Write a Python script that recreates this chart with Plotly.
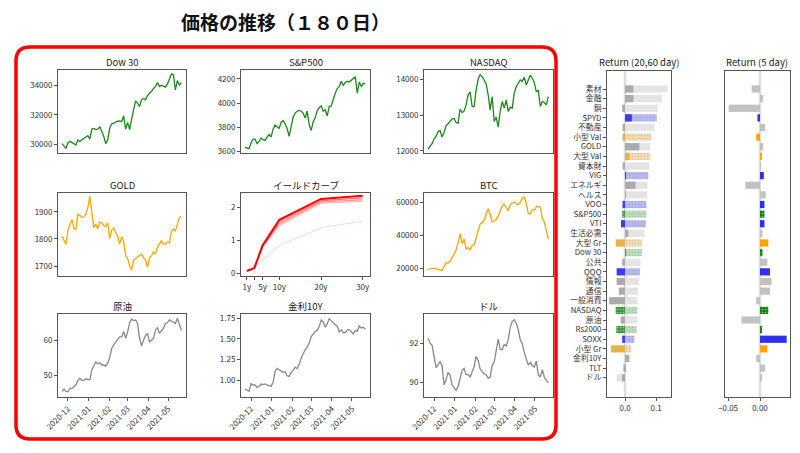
import plotly.graph_objects as go
import pandas as pd

# ---------------- data ----------------
dates = pd.date_range("2020-11-22", periods=61, freq="3D")

dow30 = [30050, 29860, 29730, 30090, 30200, 30130, 30045, 29950, 30310, 30180,
         30310, 30400, 30540, 30590, 30360, 31040, 31080, 31000, 31040, 31180,
         30880, 30540, 30050, 30310, 31110, 31400, 31450, 31540, 31580, 31600,
         31540, 31940, 31040, 31490, 31000, 31720, 32460, 32960, 32800, 32580,
         33030, 33120, 33030, 33320, 33480, 33590, 33800, 33930, 34200, 33930,
         34020, 33980, 33890, 34110, 34430, 34790, 34750, 33710, 34340, 34020, 34200]
sp500 = [3636, 3627, 3625, 3671, 3704, 3704, 3666, 3685, 3712, 3699,
         3693, 3720, 3742, 3720, 3786, 3819, 3803, 3792, 3841, 3857,
         3830, 3792, 3726, 3794, 3885, 3918, 3934, 3940, 3934, 3918,
         3877, 3934, 3822, 3775, 3847, 3879, 3940, 3962, 3978, 3934,
         3945, 3896, 3973, 3978, 4041, 4082, 4121, 4137, 4181, 4148,
         4170, 4181, 4175, 4192, 4205, 4219, 4082, 4175, 4137, 4164, 4159]
nasdaq = [12055, 12130, 12204, 12333, 12407, 12537, 12574, 12389, 12518, 12704,
          12778, 12824, 12889, 12907, 12796, 12778, 13167, 13074, 13111, 13287,
          13565, 13648, 13241, 13241, 13704, 14000, 14130, 14074, 13981, 13870,
          13565, 13148, 13518, 12824, 12944, 12667, 13102, 13380, 13194, 13426,
          13102, 13222, 13194, 13611, 13796, 13889, 13981, 13944, 14056, 13843,
          14000, 14111, 14037, 13907, 13657, 13685, 13241, 13380, 13352, 13287, 13518]
gold = [1810, 1798, 1781, 1833, 1851, 1872, 1839, 1835, 1891, 1887,
        1879, 1882, 1891, 1916, 1958, 1894, 1842, 1855, 1837, 1862,
        1860, 1850, 1845, 1860, 1802, 1833, 1840, 1823, 1810, 1781,
        1808, 1790, 1739, 1728, 1700, 1685, 1722, 1728, 1732, 1739,
        1744, 1730, 1722, 1695, 1730, 1737, 1753, 1744, 1769, 1781,
        1793, 1781, 1781, 1788, 1786, 1826, 1837, 1830, 1851, 1879, 1884]
btc = [19200, 19600, 19600, 20000, 19600, 19400, 19200, 18600, 20800, 23200,
       23200, 24200, 26400, 28400, 30900, 35300, 40900, 34900, 37700, 31700,
       32500, 31300, 33700, 34100, 38300, 43700, 46900, 47700, 49300, 53000,
       56200, 53000, 48300, 48900, 49700, 51800, 55400, 57800, 59000, 57000,
       55000, 58600, 59800, 60200, 59400, 58600, 60200, 62600, 63400, 59400,
       53400, 53000, 55800, 55400, 57400, 57800, 57000, 50400, 48300, 42500, 37700]
oil = [45.4, 46.0, 45.4, 45.3, 46.3, 46.2, 46.7, 47.2, 48.5, 49.1,
       48.5, 48.5, 48.9, 48.7, 48.7, 51.5, 52.8, 53.8, 53.2, 53.6,
       52.9, 52.9, 52.6, 53.4, 55.1, 57.6, 58.6, 59.5, 60.2, 60.9,
       60.9, 62.4, 60.5, 62.3, 64.9, 66.0, 65.5, 65.7, 64.7, 60.5,
       58.3, 60.0, 61.3, 61.9, 59.5, 60.0, 60.4, 62.8, 63.6, 61.9,
       62.5, 63.3, 64.7, 64.9, 65.7, 65.3, 65.1, 64.7, 66.2, 64.7, 62.8]
rate10y = [0.891, 0.875, 0.863, 0.956, 0.940, 0.940, 0.907, 0.923, 0.952, 0.944,
           0.952, 0.940, 0.927, 0.923, 0.972, 1.105, 1.141, 1.125, 1.101, 1.093,
           1.101, 1.052, 1.044, 1.093, 1.117, 1.157, 1.141, 1.190, 1.266, 1.319,
           1.367, 1.399, 1.448, 1.528, 1.560, 1.589, 1.601, 1.649, 1.730, 1.706,
           1.641, 1.681, 1.746, 1.722, 1.690, 1.669, 1.657, 1.585, 1.609, 1.577,
           1.577, 1.609, 1.609, 1.585, 1.560, 1.601, 1.593, 1.657, 1.633, 1.641, 1.617]
dollar = [92.25, 92.00, 91.90, 91.32, 90.75, 90.92, 91.05, 90.85, 89.88, 90.14,
          90.51, 90.37, 89.86, 89.73, 89.59, 89.80, 90.17, 90.61, 90.71, 90.39,
          90.39, 90.27, 90.54, 90.81, 91.32, 91.12, 90.68, 90.56, 90.44, 90.39,
          90.20, 90.27, 90.88, 91.02, 91.66, 92.20, 91.69, 91.66, 91.93, 91.86,
          92.17, 92.81, 93.10, 93.19, 93.02, 92.71, 92.17, 91.97, 91.53, 91.25,
          90.88, 91.02, 90.85, 90.78, 91.08, 90.39, 90.27, 90.64, 90.27, 90.10, 89.97]

# yield curve: tenor labels and their plot positions, curves oldest -> latest
yc_ticktext = ["1y", "", "5y", "10y", "20y", "30y"]
yc_x = [2.2, 4, 6, 10, 20, 30]
yc_curves = [
    [0.10, 0.15, 0.42, 0.85, 1.38, 1.58],
    [0.08, 0.16, 0.80, 1.45, 2.12, 2.18],
    [0.08, 0.16, 0.82, 1.50, 2.16, 2.22],
    [0.07, 0.16, 0.84, 1.56, 2.20, 2.28],
    [0.07, 0.16, 0.85, 1.62, 2.25, 2.35],
]

# returns
cats = ["素材", "金融", "銅", "SPYD", "不動産", "小型 Val", "GOLD", "大型 Val", "資本財", "VIG",
        "エネルギ", "ヘルス", "VOO", "S&P500", "VTI", "生活必需", "大型 Gr", "Dow 30", "公共", "QQQ",
        "情報", "通信", "一般消費", "NASDAQ", "原油", "Rs2000", "SOXX", "小型 Gr", "金利10Y", "TLT", "ドル"]
groups = ["o", "o", "o", "etf", "o", "style", "o", "style", "o", "etf",
          "o", "o", "etf", "idx", "etf", "o", "style", "idx", "o", "etf",
          "o", "o", "o", "idx", "o", "idx", "etf", "style", "o", "o", "o"]
ret60 = [0.137, 0.119, 0.105, 0.102, 0.094, 0.084, 0.081, 0.081, 0.078, 0.075,
         0.072, 0.072, 0.069, 0.069, 0.067, 0.063, 0.054, 0.054, 0.050, 0.048,
         0.045, 0.042, 0.040, 0.040, 0.040, 0.037, 0.030, 0.020, 0.010, -0.004, -0.027]
ret20 = [0.027, 0.027, -0.009, 0.022, -0.008, -0.008, 0.046, 0.014, -0.008, 0.003,
         0.034, 0.002, -0.008, -0.009, -0.013, 0.011, -0.030, 0.003, -0.009, -0.027,
         -0.027, -0.020, -0.051, -0.030, -0.014, -0.028, -0.009, -0.045, 0.014, -0.005, -0.010]
ret5 = [-0.013, 0.005, -0.049, -0.004, 0.008, -0.006, 0.005, 0.003, 0.001, 0.006,
        -0.023, 0.009, 0.007, 0.007, 0.007, 0.004, 0.013, 0.004, 0.0115, 0.0156,
        0.018, 0.0156, -0.006, 0.013, -0.0286, 0.003, 0.0417, 0.0115, -0.006, 0.008, 0.002]

# ---------------- styling ----------------
W, H = 800, 453
FONT = "Noto Sans CJK JP, Lato, sans-serif"
AX = "#555555"
TXT = "#333333"
TICKFONT = dict(size=8, color=TXT)

def xd(a, b):
    return [a / W, b / W]

def yd(top, bottom):
    return [1 - bottom / H, 1 - top / H]

cols = [(58, 186), (241, 370), (424, 553)]
rows = [(70, 153), (193, 276), (314, 397)]

light_col = {"o": "#e4e4e4", "etf": "#b9b9f2", "idx": "#bcdcbc", "style": "#f3dcb4"}
dark_col = {"o": "#ababab", "etf": "#3c3cf0", "idx": "#3a963a", "style": "#e8b04c"}
c5_col = {"o": "#c2c2c2", "etf": "#2f2ff0", "idx": "#108010", "style": "#ffa500"}

fig = go.Figure()
layout = dict(
    width=W, height=H, autosize=False,
    margin=dict(l=0, r=0, t=0, b=0, pad=0, autoexpand=False),
    paper_bgcolor="white", plot_bgcolor="white", showlegend=False,
    barmode="overlay", font=dict(family=FONT, size=8, color=TXT),
)

date_range = ["2020-11-16", "2021-05-28"]
panels = [
    ("Dow 30", dow30, "#1a8a1a", [29410, 35060], [30000, 32000, 34000], "d"),
    ("S&P500", sp500, "#1a8a1a", [3589, 4274], [3600, 3800, 4000, 4200], "d"),
    ("NASDAQ", nasdaq, "#1a8a1a", [11944, 14259], [12000, 13000, 14000], "d"),
    ("GOLD", gold, "#ffa500", [1663, 1970], [1700, 1800, 1900], "d"),
    ("イールドカーブ", None, None, [-0.08, 2.43], [0, 1, 2], "d"),
    ("BTC", btc, "#ffa500", [15180, 65830], [20000, 40000, 60000], "d"),
    ("原油", oil, "#888888", [43.8, 67.4], [50, 60], "d"),
    ("金利10Y", rate10y, "#888888", [0.794, 1.802], [1.0, 1.25, 1.5, 1.75], ".2f"),
    ("ドル", dollar, "#888888", [89.25, 93.49], [90, 92], "d"),
]

annotations = []
for i, (title, series, color, yr, yt, yfmt) in enumerate(panels):
    r, c = divmod(i, 3)
    n = i + 1
    xa = "xaxis" if n == 1 else f"xaxis{n}"
    ya = "yaxis" if n == 1 else f"yaxis{n}"
    xref = "x" if n == 1 else f"x{n}"
    yref = "y" if n == 1 else f"y{n}"
    x0, x1 = cols[c]
    t0, t1 = rows[r]
    common = dict(showline=True, mirror=True, linecolor=AX, linewidth=1,
                  showgrid=False, zeroline=False, ticklen=3, tickcolor=AX,
                  tickfont=TICKFONT)
    if series is None:
        for k, curve in enumerate(yc_curves):
            last = k == len(yc_curves) - 1
            op = [0.15, 0.3, 0.42, 0.55, 1.0][k]
            fig.add_trace(go.Scatter(x=yc_x, y=curve, mode="lines",
                                     line=dict(color=f"rgba(255,0,0,{op})", width=2 if last else 1.2),
                                     xaxis=xref, yaxis=yref, hoverinfo="skip"))
        layout[xa] = dict(domain=xd(x0, x1), anchor=yref, range=[0.8, 31.76],
                          tickvals=yc_x, ticktext=yc_ticktext, ticks="outside", **common)
    else:
        fig.add_trace(go.Scatter(x=dates, y=series, mode="lines",
                                 line=dict(color=color, width=1.3),
                                 xaxis=xref, yaxis=yref))
        xdict = dict(domain=xd(x0, x1), anchor=yref, type="date", range=date_range, **common)
        if r == 2:
            xdict.update(ticks="outside", tickformat="%Y-%m", dtick="M1",
                         tick0="2020-12-01", tickangle=-45, showticklabels=True)
        else:
            xdict.update(ticks="", showticklabels=False)
        layout[xa] = xdict
    layout[ya] = dict(domain=yd(t0, t1), anchor=xref, range=yr, tickvals=yt,
                      tickformat=yfmt, ticks="outside", **common)
    annotations.append(dict(text=title, x=(x0 + x1) / 2 / W, y=1 - (t0 - 8) / H,
                            xref="paper", yref="paper", showarrow=False,
                            xanchor="center", yanchor="middle",
                            font=dict(size=9.5, color="#222222", family=FONT)))

# ---------------- bar charts ----------------
idx = list(range(len(cats)))
bar_yrange = [32.0, -1.87]

fig.add_trace(go.Bar(
    x=ret60, y=idx, orientation="h", width=0.75,
    marker=dict(color=[light_col[g] for g in groups], line=dict(width=0),
                pattern=dict(shape=["" if g == "o" else "." for g in groups],
                             fgcolor=[dark_col[g] for g in groups], fgopacity=0.2,
                             size=3, solidity=0.2)),
    xaxis="x10", yaxis="y10"))
fig.add_trace(go.Bar(
    x=ret20, y=idx, orientation="h", width=0.75,
    marker=dict(color=[dark_col[g] for g in groups], line=dict(width=0),
                pattern=dict(shape=["." if g == "idx" else "" for g in groups],
                             fgcolor="#0c5a0c", fgopacity=0.5, size=3, solidity=0.25)),
    xaxis="x10", yaxis="y10"))
fig.add_trace(go.Bar(
    x=ret5, y=idx, orientation="h", width=0.75,
    marker=dict(color=[c5_col[g] for g in groups], line=dict(width=0),
                pattern=dict(shape=["." if g == "idx" else "" for g in groups],
                             fgcolor="#004000", fgopacity=0.5, size=3, solidity=0.25)),
    xaxis="x11", yaxis="y11"))

bcommon = dict(showline=True, mirror=True, linecolor=AX, linewidth=1,
               showgrid=False, zeroline=False)
layout["xaxis10"] = dict(domain=xd(607, 671), anchor="y10", range=[-0.058, 0.148],
                         tickvals=[0.0, 0.1], ticktext=["0.0", "0.1"], ticks="outside",
                         ticklen=3, tickcolor=AX, tickfont=TICKFONT, **bcommon)
layout["yaxis10"] = dict(domain=yd(71, 397), anchor="x10", range=bar_yrange,
                         tickvals=idx, ticktext=cats, ticks="outside",
                         ticklen=3, tickcolor=AX, tickfont=dict(size=7.8, color=TXT), **bcommon)
layout["xaxis11"] = dict(domain=xd(725, 790), anchor="y11", range=[-0.0547, 0.0469],
                         tickvals=[-0.05, 0.0], ticktext=["\u22120.05", "0.00"], ticks="outside",
                         ticklen=3, tickcolor=AX, tickfont=TICKFONT, **bcommon)
layout["yaxis11"] = dict(domain=yd(71, 397), anchor="x11", range=bar_yrange,
                         showticklabels=False, ticks="", **bcommon)

annotations.append(dict(text="Return (20,60 day)", x=639 / W, y=1 - 62 / H, xref="paper", yref="paper",
                        showarrow=False, xanchor="center", yanchor="middle",
                        font=dict(size=9.5, color="#222222", family=FONT)))
annotations.append(dict(text="Return (5 day)", x=757 / W, y=1 - 62 / H, xref="paper", yref="paper",
                        showarrow=False, xanchor="center", yanchor="middle",
                        font=dict(size=9.5, color="#222222", family=FONT)))
annotations.append(dict(text="<b>価格の推移（１８０日）</b>", x=285 / W, y=1 - 21 / H, xref="paper", yref="paper",
                        showarrow=False, xanchor="center", yanchor="middle",
                        font=dict(size=19, color="#111111", family=FONT)))

# ---------------- shapes ----------------
shapes = []
for xr in ("x10", "x11"):
    shapes.append(dict(type="line", xref=xr, yref=f"y{xr[1:]} domain", x0=0, x1=0, y0=0, y1=1,
                       line=dict(color="#dddddd", width=2.5), layer="below"))

def X(px):
    return px / W

def Y(py):
    return 1 - py / H

bx0, bx1, by0, by1, rr = 16, 556, 47, 439, 14
path = (f"M {X(bx0 + rr)},{Y(by0)} L {X(bx1 - rr)},{Y(by0)} Q {X(bx1)},{Y(by0)} {X(bx1)},{Y(by0 + rr)} "
        f"L {X(bx1)},{Y(by1 - rr)} Q {X(bx1)},{Y(by1)} {X(bx1 - rr)},{Y(by1)} "
        f"L {X(bx0 + rr)},{Y(by1)} Q {X(bx0)},{Y(by1)} {X(bx0)},{Y(by1 - rr)} "
        f"L {X(bx0)},{Y(by0 + rr)} Q {X(bx0)},{Y(by0)} {X(bx0 + rr)},{Y(by0)} Z")
shapes.append(dict(type="path", xref="paper", yref="paper", path=path,
                   line=dict(color="#ff0000", width=3.5), fillcolor="rgba(0,0,0,0)"))

layout["annotations"] = annotations
layout["shapes"] = shapes
fig.update_layout(**layout)
fig.write_html("out.html", config={"displayModeBar": False},
               post_script="document.body.style.margin='0';")
